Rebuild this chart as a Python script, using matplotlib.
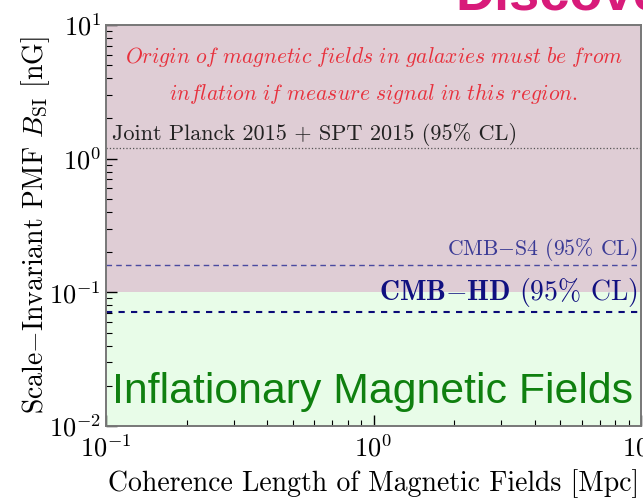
import matplotlib
matplotlib.use('Agg')
import matplotlib.pyplot as plt
import numpy as np

plt.rcParams['font.family'] = 'serif'
plt.rcParams['font.serif'] = ['cmr10']
plt.rcParams['mathtext.fontset'] = 'cm'
plt.rcParams['axes.formatter.use_mathtext'] = True

# data
x_range = [0.1, 10]
y_range = [0.01, 10]
inflation_floor = 0.1           # above this: must be inflationary origin
planck_spt = 1.2                # Joint Planck 2015 + SPT 2015 (95% CL)
cmb_s4 = 0.16                   # CMB-S4 (95% CL)
cmb_hd = 0.071                  # CMB-HD (95% CL)

fig = plt.figure(figsize=(6.43, 4.99), dpi=100)
ax = fig.add_axes([106/643, 73/499, 535/643, 401/499])

ax.set_xscale('log')
ax.set_yscale('log')
ax.set_xlim(x_range)
ax.set_ylim(y_range)

# shaded regions
ax.fill_between(x_range, inflation_floor, y_range[1], color='#dfcdd5', lw=0, zorder=0)
ax.fill_between(x_range, y_range[0], inflation_floor, color='#e8fce8', lw=0, zorder=0)

# limits
ax.axhline(planck_spt, color='#555555', ls=':', lw=0.9)
ax.axhline(cmb_s4, color='#4a4aa0', ls=(0, (4, 3)), lw=1.0)
ax.axhline(cmb_hd, color='#0a0a78', ls=(0, (3, 3)), lw=1.5)

ax.text(0.105, planck_spt * 1.03, 'Joint Planck 2015 + SPT 2015 (95% CL)',
        fontsize=16, color='#222222', ha='left', va='bottom')
ax.text(9.7, cmb_s4 * 1.03, r'CMB$-$S4 (95% CL)', fontsize=15.6,
        color='#3a3a95', ha='right', va='bottom')
ax.text(9.7, cmb_hd * 1.05, r'$\mathbf{CMB{-}HD}$ (95% CL)', fontsize=20,
        color='#101080', ha='right', va='bottom')

ax.text(0.5, 0.92, r'$\mathit{Origin\ of\ magnetic\ fields\ in\ galaxies\ must\ be\ from}$',
        transform=ax.transAxes, ha='center', va='center', fontsize=15.5, color='#e8303c')
ax.text(0.5, 0.83, r'$\mathit{inflation\ if\ measure\ signal\ in\ this\ region.}$',
        transform=ax.transAxes, ha='center', va='center', fontsize=15.5, color='#e8303c')

ax.text(0.012, 0.035, 'Inflationary Magnetic Fields', transform=ax.transAxes,
        ha='left', va='bottom', fontsize=30.8, color='#0f800f', family='Liberation Sans')

fig.text(455/643, 1.0 - 10/499, 'Discovery', ha='left', va='baseline',
         fontsize=39, fontweight='bold', color='#d81b7a', family='Liberation Sans')

ax.set_xlabel('Coherence Length of Magnetic Fields [Mpc]', fontsize=20, labelpad=6)
ax.set_ylabel(r'Scale$-$Invariant PMF $B_{\rm SI}$ [nG]', fontsize=20, labelpad=-2)

ax.tick_params(which='both', direction='in', labelsize=19, top=False, right=False)
ax.tick_params(which='major', length=8, width=1.0)
ax.tick_params(which='minor', length=4, width=0.8)
ax.tick_params(axis='x', pad=6)
for s in ax.spines.values():
    s.set_color('#777777')
    s.set_linewidth(1.4)

fig.savefig('out.png', dpi=100)
